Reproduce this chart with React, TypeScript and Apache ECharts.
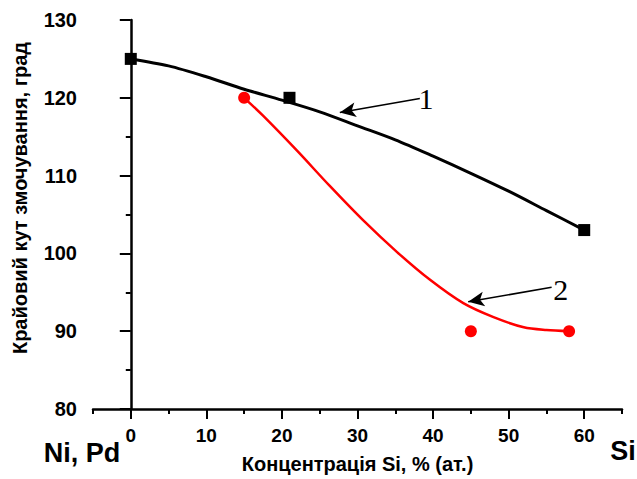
import React, { useEffect, useRef } from "react";
import * as echarts from "echarts";

// Measured points (x = Si concentration, at.%; y = contact angle, deg)
const series1Points: [number, number][] = [
  [0, 125],
  [21, 120],
  [60, 103],
];
const series2Points: [number, number][] = [
  [15, 120],
  [45, 90],
  [58, 90],
];

// Fitted curves
const series1Curve: [number, number][] = [
  [0, 125], [5, 124.1], [10, 122.7], [15, 121.1], [20, 119.7], [25, 118.2],
  [30, 116.4], [35, 114.6], [40, 112.5], [45, 110.3], [50, 108.0], [55, 105.5], [60, 103.0],
];
const series2Curve: [number, number][] = [
  [15, 120], [17.5, 117.7], [22, 113.2], [26.3, 108.7], [30.7, 104.3], [35.2, 100.2],
  [39.6, 96.6], [44, 93.6], [48, 91.8], [52, 90.5], [55, 90.15], [58, 90],
];

// Annotation arrows (tail -> tip) and their labels
const arrow1: [number, number][] = [[38.25, 119.92], [27.66, 118.1]];
const arrow2: [number, number][] = [[55.69, 95.65], [44.65, 93.78]];
const label1: [number, number] = [39.05, 119.9];
const label2: [number, number] = [56.88, 95.34];

const xMajorTicks = [0, 10, 20, 30, 40, 50, 60];
const xMinorTicks = [-5, 5, 15, 25, 35, 45, 55, 65];

const yTitle = "Крайовий кут змочування, град";
const xTitle = "Концентрація Si, % (ат.)";

const SANS = "'Liberation Sans', Arial, sans-serif";
const SERIF = "'Liberation Serif', 'Times New Roman', serif";

export default function App() {
  const ref = useRef<HTMLDivElement>(null);
  useEffect(() => {
    if (!ref.current) return;
    const chart = echarts.init(ref.current, undefined, { renderer: "svg" });
    const arrowLine = (a: [number, number][]) => ({
      silent: true,
      symbol: ["none", "arrow"],
      symbolSize: [11, 16],
      lineStyle: { color: "#000", width: 1.6, type: "solid" },
      label: { show: false },
      data: [[{ coord: a[0] }, { coord: a[1] }]],
    });
    const numLabel = (p: [number, number], t: string) => ({
      silent: true,
      symbol: "circle",
      symbolSize: 0,
      label: {
        show: true,
        position: "inside",
        formatter: t,
        color: "#000",
        fontFamily: SERIF,
        fontSize: 30,
      },
      data: [{ coord: p }],
    });
    chart.setOption({
      animation: false,
      backgroundColor: "#fff",
      grid: { left: 93, right: 15, top: 20, bottom: 67, containLabel: false },
      xAxis: [
        {
          type: "value",
          min: -5,
          max: 65,
          position: "bottom",
          name: xTitle,
          nameLocation: "middle",
          nameGap: 45,
          nameTextStyle: { fontFamily: SANS, fontWeight: "bold", fontSize: 20, color: "#000" },
          axisLine: { show: true, lineStyle: { color: "#000", width: 2.5 } },
          axisTick: { show: true, inside: false, length: 10, customValues: xMajorTicks, lineStyle: { color: "#000", width: 2 } },
          axisLabel: { show: true, customValues: xMajorTicks, margin: 17, fontFamily: SANS, fontWeight: "bold", fontSize: 19, color: "#000" },
          splitLine: { show: false },
        },
        {
          type: "value",
          min: -5,
          max: 65,
          position: "bottom",
          axisLine: { show: false },
          axisTick: { show: true, inside: false, length: 5, customValues: xMinorTicks, lineStyle: { color: "#000", width: 2 } },
          axisLabel: { show: false },
          splitLine: { show: false },
        },
      ],
      yAxis: {
        type: "value",
        min: 80,
        max: 130,
        interval: 10,
        axisLine: { show: true, lineStyle: { color: "#000", width: 2.5 } },
        axisTick: { show: true, inside: false, length: 11, lineStyle: { color: "#000", width: 2 } },
        minorTick: { show: true, splitNumber: 2, length: 5, lineStyle: { color: "#000", width: 2 } },
        axisLabel: { margin: 16, fontFamily: SANS, fontWeight: "bold", fontSize: 20, color: "#000" },
        splitLine: { show: false },
      },
      series: [
        {
          type: "line",
          name: "1 fit",
          data: series1Curve,
          smooth: 0.3,
          showSymbol: false,
          lineStyle: { color: "#000", width: 3 },
          z: 2,
          markLine: arrowLine(arrow1),
          markPoint: numLabel(label1, "1"),
        },
        {
          type: "line",
          name: "2 fit",
          data: series2Curve,
          smooth: 0.3,
          showSymbol: false,
          lineStyle: { color: "#ff0000", width: 2.5 },
          z: 2,
          markLine: arrowLine(arrow2),
          markPoint: numLabel(label2, "2"),
        },
        {
          type: "scatter",
          name: "1",
          data: series1Points,
          symbol: "rect",
          symbolSize: 12,
          itemStyle: { color: "#000", opacity: 1 },
          z: 5,
        },
        {
          type: "scatter",
          name: "2",
          data: series2Points,
          symbol: "circle",
          symbolSize: 12,
          itemStyle: { color: "#ff0000", opacity: 1 },
          z: 5,
        },
      ],
      graphic: [
        {
          type: "text",
          x: 20,
          y: 198,
          rotation: Math.PI / 2,
          style: {
            text: yTitle,
            fill: "#000",
            font: `bold 20px ${SANS}`,
            textAlign: "center",
            textVerticalAlign: "middle",
          },
        },
        {
          type: "text",
          x: 82,
          y: 453,
          style: {
            text: "Ni, Pd",
            fill: "#000",
            font: `bold 27px ${SANS}`,
            textAlign: "center",
            textVerticalAlign: "middle",
          },
        },
        {
          type: "text",
          x: 623,
          y: 451,
          style: {
            text: "Si",
            fill: "#000",
            font: `bold 27px ${SANS}`,
            textAlign: "center",
            textVerticalAlign: "middle",
          },
        },
      ],
    });
    return () => chart.dispose();
  }, []);
  return <div ref={ref} style={{ width: 637, height: 479, position: "absolute", left: 0, top: 0 }} />;
}
